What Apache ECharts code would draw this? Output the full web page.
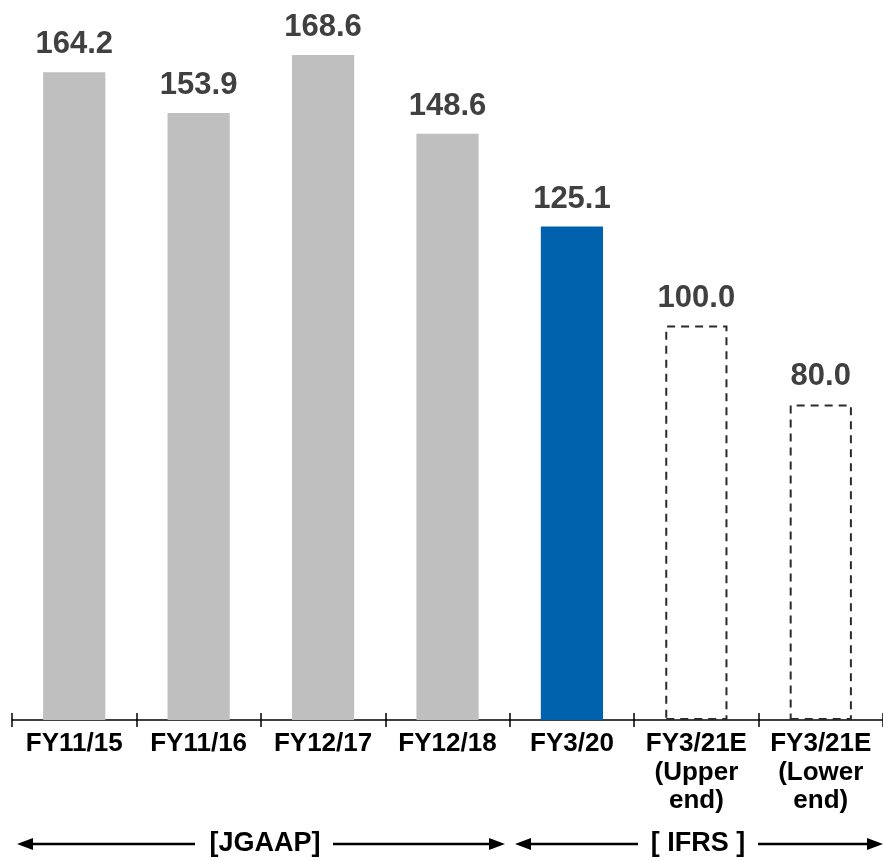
<!DOCTYPE html>
<html>
<head>
<meta charset="utf-8">
<style>
  html, body { margin: 0; padding: 0; background: #ffffff; }
  #chart { width: 883px; height: 860px; }
</style>
<script src="https://cdn.jsdelivr.net/npm/echarts@6/dist/echarts.min.js"></script>
</head>
<body>
<div id="chart"></div>
<script>
// Fiscal periods shown along the x axis
const categories = [
  'FY11/15', 'FY11/16', 'FY12/17', 'FY12/18', 'FY3/20',
  'FY3/21E\n(Upper\nend)', 'FY3/21E\n(Lower\nend)'
];
// Results (actuals) and forecast range
const values = [164.2, 153.9, 168.6, 148.6, 125.1, 100.0, 80.0];
// Bar style kind per period: past JGAAP, latest IFRS actual, forecast
const kinds = ['past', 'past', 'past', 'past', 'actual', 'forecast', 'forecast'];

const FONT = '"Liberation Sans", Arial, sans-serif';

const styles = {
  past: { color: '#bfbfbf' },
  actual: { color: '#0062ad' },
  forecast: {
    color: 'rgba(0,0,0,0)',
    borderColor: '#2b2b2b',
    borderWidth: 2,
    borderType: [8, 6]
  }
};

const barData = values.map((v, i) => ({
  value: v,
  itemStyle: styles[kinds[i]]
}));

const chart = echarts.init(document.getElementById('chart'), null, { renderer: 'canvas' });

// Arrow helpers for the accounting-standard span markers under the axis
function arrowHead(x, y, dir) {
  const L = 16, H = 6;
  return {
    type: 'polygon',
    shape: { points: [[x, y], [x - dir * L, y - H], [x - dir * L, y + H]] },
    style: { fill: '#000' },
    silent: true
  };
}
function hLine(x1, x2, y) {
  return {
    type: 'line',
    shape: { x1: x1, y1: y, x2: x2, y2: y },
    style: { stroke: '#000', lineWidth: 2.5 },
    silent: true
  };
}

const arrowY = 844;
const spanLabels = ['[JGAAP]', '[ IFRS ]'];

chart.setOption({
  animation: false,
  backgroundColor: '#ffffff',
  grid: { left: 12, right: -1, top: 10, bottom: 140, containLabel: false },
  xAxis: [
    {
      type: 'category',
      data: categories,
      position: 'bottom',
      axisLine: { show: true, lineStyle: { color: '#000', width: 1.5 } },
      axisTick: { show: true, inside: false, length: 7, lineStyle: { color: '#000', width: 1.5 } },
      axisLabel: {
        color: '#000',
        fontFamily: FONT,
        fontWeight: 'bold',
        fontSize: 26,
        lineHeight: 28.5,
        margin: 10,
        interval: 0
      }
    },
    {
      type: 'category',
      data: categories,
      position: 'bottom',
      axisLine: { show: false },
      axisTick: { show: true, inside: true, length: 7, lineStyle: { color: '#000', width: 1.5 } },
      axisLabel: { show: false }
    }
  ],
  yAxis: {
    type: 'value',
    min: 0,
    max: 180,
    show: false,
    splitLine: { show: false }
  },
  series: [
    {
      type: 'bar',
      xAxisIndex: 0,
      data: barData,
      barWidth: '50%',
      label: {
        show: true,
        position: 'top',
        distance: 12,
        color: '#404040',
        fontFamily: FONT,
        fontWeight: 'bold',
        fontSize: 31,
        formatter: p => p.value.toFixed(1)
      }
    }
  ],
  graphic: [
    // JGAAP span
    hLine(22, 195, arrowY),
    arrowHead(17, arrowY, -1),
    hLine(333, 500, arrowY),
    arrowHead(505, arrowY, 1),
    {
      type: 'text',
      x: 265, y: arrowY,
      style: {
        text: spanLabels[0], fill: '#000', font: 'bold 27px ' + FONT,
        align: 'center', verticalAlign: 'middle'
      },
      silent: true
    },
    // IFRS span
    hLine(520, 638, arrowY),
    arrowHead(515, arrowY, -1),
    hLine(758, 878, arrowY),
    arrowHead(883, arrowY, 1),
    {
      type: 'text',
      x: 698, y: arrowY,
      style: {
        text: spanLabels[1], fill: '#000', font: 'bold 27px ' + FONT,
        align: 'center', verticalAlign: 'middle'
      },
      silent: true
    }
  ]
});
</script>
</body>
</html>
